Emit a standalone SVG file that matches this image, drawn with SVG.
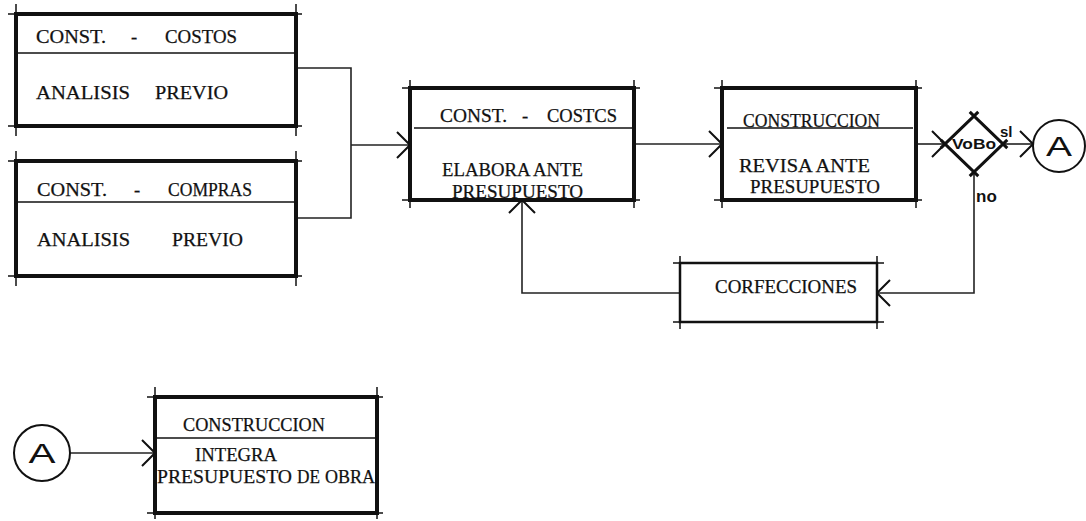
<svg xmlns="http://www.w3.org/2000/svg" width="1086" height="521" viewBox="0 0 1086 521">
<defs>
<style>
.box{fill:none;stroke:#111;stroke-width:4}
.thin{fill:none;stroke:#111;stroke-width:2.5}
.tick{fill:none;stroke:#111;stroke-width:1.5}
.div{stroke:#111;stroke-width:1.5}
.conn{fill:none;stroke:#222;stroke-width:1.6}
.dia{fill:none;stroke:#111;stroke-width:3}
.circ{fill:#fff;stroke:#111;stroke-width:2}
.t{font-family:"Liberation Serif","Times New Roman",serif;font-size:18.5px;fill:#111;stroke:#111;stroke-width:0.25}
.s{font-family:"Liberation Sans",Arial,sans-serif;font-weight:bold;fill:#111}
.a{font-family:"Liberation Sans",Arial,sans-serif;font-size:28px;fill:#111;text-anchor:middle}
</style>
<marker id="ah" viewBox="0 0 15 28" refX="14" refY="14" markerWidth="15" markerHeight="28" markerUnits="userSpaceOnUse" orient="auto">
<path d="M1,1 L14,14 L1,27" fill="none" stroke="#111" stroke-width="2"/>
</marker>
</defs>
<rect width="1086" height="521" fill="#fff"/>

<g id="connectors">
<path class="conn" d="M296,68H351V218H296"/>
<path class="conn" d="M351,145H410" marker-end="url(#ah)"/>
<path class="conn" d="M634,144H722" marker-end="url(#ah)"/>
<path class="conn" d="M916,144H945" marker-end="url(#ah)"/>
<path class="conn" d="M1003,144H1033" marker-end="url(#ah)"/>
<path class="conn" d="M974,172V293H877" marker-end="url(#ah)"/>
<path class="conn" d="M680,293H522V200" marker-end="url(#ah)"/>
<path class="conn" d="M70,453H155" marker-end="url(#ah)"/>
</g>

<g id="n1">
<path class="tick" d="M8,14H302M8,126H302M16,4V136M296,4V136"/>
<rect class="box" x="16" y="14" width="280" height="112"/>
<line class="div" x1="16" y1="53" x2="296" y2="53"/>
<text class="t" x="36" y="43" textLength="70" lengthAdjust="spacingAndGlyphs">CONST.</text>
<text class="t" x="131" y="43">-</text>
<text class="t" x="165" y="43" textLength="72" lengthAdjust="spacingAndGlyphs">COSTOS</text>
<text class="t" x="36" y="99" textLength="94" lengthAdjust="spacingAndGlyphs">ANALISIS</text>
<text class="t" x="155" y="99" textLength="73" lengthAdjust="spacingAndGlyphs">PREVIO</text>
</g>

<g id="n2">
<path class="tick" d="M8,161H302M8,276H302M16,151V286M296,151V286"/>
<rect class="box" x="16" y="161" width="280" height="115"/>
<line class="div" x1="16" y1="202" x2="296" y2="202"/>
<text class="t" x="37" y="196" textLength="70" lengthAdjust="spacingAndGlyphs">CONST.</text>
<text class="t" x="134" y="196">-</text>
<text class="t" x="168" y="196" textLength="84" lengthAdjust="spacingAndGlyphs">COMPRAS</text>
<text class="t" x="37" y="246" textLength="93" lengthAdjust="spacingAndGlyphs">ANALISIS</text>
<text class="t" x="172" y="246" textLength="71" lengthAdjust="spacingAndGlyphs">PREVIO</text>
</g>

<g id="n3">
<path class="tick" d="M402,88H640M402,200H640M410,80V208M634,80V208"/>
<rect class="box" x="410" y="88" width="224" height="112"/>
<line class="div" x1="414" y1="128" x2="632" y2="128"/>
<text class="t" x="440" y="122" textLength="67" lengthAdjust="spacingAndGlyphs">CONST.</text>
<text class="t" x="522" y="122">-</text>
<text class="t" x="547" y="122" textLength="70" lengthAdjust="spacingAndGlyphs">COSTCS</text>
<text class="t" x="442" y="176" textLength="141" lengthAdjust="spacingAndGlyphs">ELABORA ANTE</text>
<text class="t" x="452" y="198" textLength="131" lengthAdjust="spacingAndGlyphs">PRESUPUESTO</text>
</g>

<g id="n4">
<path class="tick" d="M714,88H922M714,200H922M722,80V208M916,80V208"/>
<rect class="box" x="722" y="88" width="194" height="112"/>
<line class="div" x1="727" y1="128" x2="913" y2="128"/>
<text class="t" x="743" y="127" textLength="137" lengthAdjust="spacingAndGlyphs">CONSTRUCCION</text>
<text class="t" x="739" y="172" textLength="131" lengthAdjust="spacingAndGlyphs">REVISA ANTE</text>
<text class="t" x="750" y="193" textLength="130" lengthAdjust="spacingAndGlyphs">PRESUPUESTO</text>
</g>

<g id="decision">
<path class="dia" d="M940.7,148.2L978.3,111.8M969.7,111.8L1007.3,148.2M1007.3,139.8L969.7,176.2M978.3,176.2L940.7,139.8"/>
<text class="s" x="974" y="149" font-size="14" text-anchor="middle" textLength="44" lengthAdjust="spacingAndGlyphs">VoBo</text>
<text class="s" x="1000" y="137" font-size="15">sl</text>
<text class="s" x="976" y="202" font-size="17">no</text>
</g>

<g id="connA1">
<circle class="circ" cx="1059" cy="146" r="26"/>
<text class="a" x="1059" y="156" textLength="26" lengthAdjust="spacingAndGlyphs">A</text>
</g>

<g id="n5">
<path class="tick" d="M673,263H884M673,322H884M680,256V329M877,256V329"/>
<rect class="thin" x="680" y="263" width="197" height="59"/>
<text class="t" x="715" y="293" textLength="142" lengthAdjust="spacingAndGlyphs">CORFECCIONES</text>
</g>

<g id="connA2">
<circle class="circ" cx="42" cy="453" r="28"/>
<text class="a" x="42" y="463" textLength="27" lengthAdjust="spacingAndGlyphs">A</text>
</g>

<g id="n6">
<path class="tick" d="M147,397H383M147,513H383M155,387V519M377,387V519"/>
<rect class="box" x="155" y="397" width="222" height="116"/>
<line class="div" x1="155" y1="438" x2="377" y2="438"/>
<text class="t" x="183" y="431" textLength="142" lengthAdjust="spacingAndGlyphs">CONSTRUCCION</text>
<text class="t" x="195" y="461" textLength="82" lengthAdjust="spacingAndGlyphs">INTEGRA</text>
<text class="t" x="157" y="483" textLength="135" lengthAdjust="spacingAndGlyphs">PRESUPUESTO</text>
<text class="t" x="297" y="483" textLength="23" lengthAdjust="spacingAndGlyphs">DE</text>
<text class="t" x="325" y="483" textLength="50" lengthAdjust="spacingAndGlyphs">OBRA</text>
</g>
</svg>
